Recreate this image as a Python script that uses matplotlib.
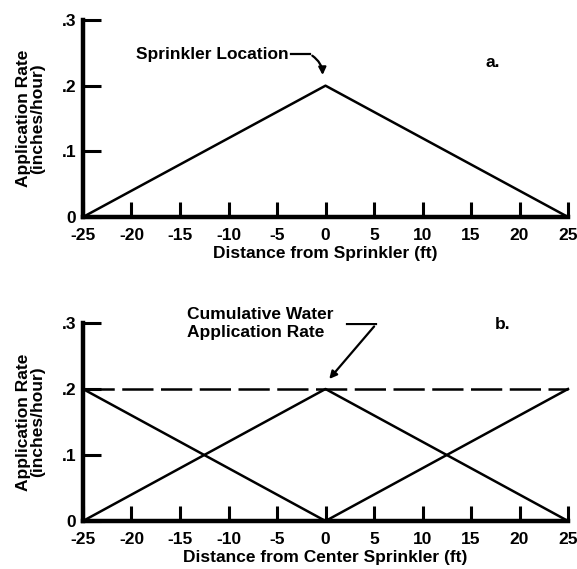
import matplotlib
matplotlib.use("Agg")
import matplotlib.pyplot as plt

plt.rcParams['font.family'] = ['Liberation Sans', 'DejaVu Sans']
plt.rcParams['font.weight'] = 'bold'

# ---- data ----
x_ticks = [-25, -20, -15, -10, -5, 0, 5, 10, 15, 20, 25]
y_ticks = [0, 0.1, 0.2, 0.3]
y_tick_labels = ['0', '.1', '.2', '.3']

single_x = [-25, 0, 25]
single_y = [0.0, 0.2, 0.0]

left_x = [-25, 0]
left_y = [0.2, 0.0]
center_x = [-25, 0, 25]
center_y = [0.0, 0.2, 0.0]
right_x = [0, 25]
right_y = [0.0, 0.2]
cumulative_x = [-25, 25]
cumulative_y = [0.2, 0.2]

W, H = 577, 569
fig = plt.figure(figsize=(W / 100, H / 100), dpi=100)
FS = 12.5

def make_ax(top_px, bottom_px):
    left_px, right_px = 83, 568
    ax = fig.add_axes([left_px / W, 1 - bottom_px / H,
                       (right_px - left_px) / W, (bottom_px - top_px) / H])
    ax.set_xlim(-25, 25)
    ax.set_ylim(0, 0.3)
    for s in ['top', 'right']:
        ax.spines[s].set_visible(False)
    for s in ['left', 'bottom']:
        ax.spines[s].set_linewidth(3.2)
    ax.set_xticks(x_ticks)
    ax.set_xticklabels([str(t) for t in x_ticks], fontsize=FS, fontweight='bold')
    ax.set_yticks(y_ticks)
    ax.set_yticklabels(y_tick_labels, fontsize=FS, fontweight='bold')
    ax.tick_params(axis='x', direction='in', length=10.5, width=2.2, pad=8)
    ax.tick_params(axis='y', direction='in', length=13, width=2.2, pad=5)
    ax.set_ylabel('Application Rate\n(inches/hour)', fontsize=FS, fontweight='bold',
                  labelpad=12, linespacing=0.9)
    ax.patch.set_alpha(0)
    return ax

ax1 = make_ax(20, 217)
ax1.plot(single_x, single_y, color='black', lw=1.8, clip_on=False)
ax1.set_xlabel('Distance from Sprinkler (ft)', fontsize=FS, fontweight='bold', labelpad=2)
ax1.text(-19.5, 0.248, 'Sprinkler Location', fontsize=FS, fontweight='bold',
         va='center', ha='left')
ax1.plot([-3.6, -1.6], [0.248, 0.248], color='black', lw=1.6)
ax1.annotate('', xy=(-0.3, 0.212), xytext=(-1.6, 0.248),
             arrowprops=dict(arrowstyle='-|>', color='black', lw=1.6,
                             connectionstyle='arc3,rad=-0.3', mutation_scale=11))
ax1.text(16.5, 0.236, 'a.', fontsize=FS, fontweight='bold', va='center', ha='left')

ax2 = make_ax(323, 521)
ax2.plot(left_x, left_y, color='black', lw=1.8, clip_on=False)
ax2.plot(center_x, center_y, color='black', lw=1.8, clip_on=False)
ax2.plot(right_x, right_y, color='black', lw=1.8, clip_on=False)
ax2.plot(cumulative_x, cumulative_y, color='black', lw=1.8, dashes=(12.5, 3.0), clip_on=False)
ax2.set_xlabel('Distance from Center Sprinkler (ft)', fontsize=FS, fontweight='bold', labelpad=2)
ax2.text(-14.3, 0.299, 'Cumulative Water\nApplication Rate', fontsize=FS, fontweight='bold',
         va='center', ha='left', linespacing=1.3)
ax2.plot([2.2, 5.2], [0.298, 0.298], color='black', lw=1.6)
ax2.annotate('', xy=(0.2, 0.212), xytext=(5.2, 0.298),
             arrowprops=dict(arrowstyle='-|>', color='black', lw=1.6, mutation_scale=11))
ax2.text(17.5, 0.298, 'b.', fontsize=FS, fontweight='bold', va='center', ha='left')

fig.savefig('out.png', dpi=100)
